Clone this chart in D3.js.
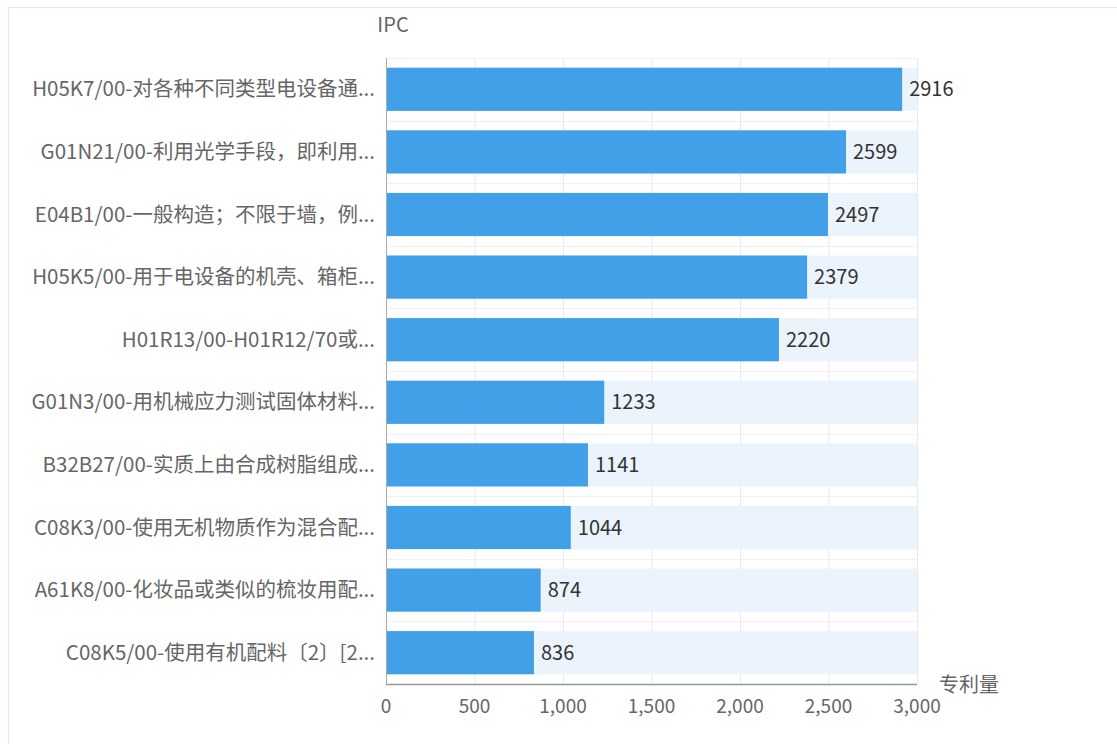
<!DOCTYPE html>
<html>
<head>
<meta charset="utf-8">
<script src="https://cdn.jsdelivr.net/npm/d3@7"></script>
<style>
  body { margin: 0; background: #fff; font-family: "Noto Sans CJK SC", "Noto Sans", sans-serif; }
  #chart { position: relative; }
</style>
</head>
<body>
<div id="chart"></div>
<script>
(function() {
'use strict';

const categories = [
  'H05K7/00-对各种不同类型电设备通...',
  'G01N21/00-利用光学手段，即利用...',
  'E04B1/00-一般构造；不限于墙，例...',
  'H05K5/00-用于电设备的机壳、箱柜...',
  'H01R13/00-H01R12/70或...',
  'G01N3/00-用机械应力测试固体材料...',
  'B32B27/00-实质上由合成树脂组成...',
  'C08K3/00-使用无机物质作为混合配...',
  'A61K8/00-化妆品或类似的梳妆用配...',
  'C08K5/00-使用有机配料〔2〕[2...'
];
const patentCounts = [2916, 2599, 2497, 2379, 2220, 1233, 1141, 1044, 874, 836];
const xTicks = [0, 500, 1000, 1500, 2000, 2500, 3000];

const width = 1117;
const height = 744;
const margin = {top: 58, right: 200, bottom: 60, left: 386};
const plotW = 917 - margin.left;
const plotH = 684 - margin.top;

const svg = d3.select('#chart')
  .append('svg')
  .attr('width', width)
  .attr('height', height);

// outer frame
svg.append('rect')
  .attr('x', 8.5).attr('y', 7.5)
  .attr('width', width).attr('height', height)
  .attr('fill', 'none')
  .attr('stroke', '#ebe6d8');

const g = svg.append('g')
  .attr('transform', 'translate(' + margin.left + ',' + margin.top + ')');

const x = d3.scaleLinear().domain([0, 3000]).range([0, plotW]);
const y = d3.scaleBand().domain(categories).range([0, plotH]).paddingInner(0.31).paddingOuter(0.155);

// vertical grid
g.selectAll('.grid')
  .data(xTicks.slice(1))
  .enter()
  .append('line')
  .attr('x1', d => x(d) + 0.5).attr('x2', d => x(d) + 0.5)
  .attr('y1', 0).attr('y2', plotH)
  .attr('stroke', '#e6e9ee');

// horizontal separators
g.selectAll('.hsep')
  .data(categories)
  .enter()
  .append('line')
  .attr('x1', 0).attr('x2', plotW)
  .attr('y1', d => Math.round(y(d) - y.step() * 0.155) + 0.5)
  .attr('y2', d => Math.round(y(d) - y.step() * 0.155) + 0.5)
  .attr('stroke', '#f1f1f1');

// background bars
g.selectAll('.bg')
  .data(categories)
  .enter()
  .append('rect')
  .attr('x', 0)
  .attr('y', d => y(d))
  .attr('width', plotW)
  .attr('height', y.bandwidth())
  .attr('fill', '#ebf4fd');

// bars
g.selectAll('.bar')
  .data(patentCounts)
  .enter()
  .append('rect')
  .attr('x', 0)
  .attr('y', (d, i) => y(categories[i]))
  .attr('width', d => x(d))
  .attr('height', y.bandwidth())
  .attr('fill', '#42a0e8');

// value labels
g.selectAll('.val')
  .data(patentCounts)
  .enter()
  .append('text')
  .attr('x', d => x(d) + 7)
  .attr('y', (d, i) => y(categories[i]) + y.bandwidth() / 2)
  .attr('dy', '0.35em')
  .attr('font-size', 20)
  .attr('fill', '#333')
  .text(d => d);

// category labels
g.selectAll('.cat')
  .data(categories)
  .enter()
  .append('text')
  .attr('x', -11)
  .attr('y', d => y(d) + y.bandwidth() / 2)
  .attr('dy', '0.35em')
  .attr('text-anchor', 'end')
  .attr('font-size', 20.5)
  .attr('fill', '#666')
  .text(d => d);

// axes lines
g.append('line')
  .attr('x1', 0.5).attr('x2', 0.5)
  .attr('y1', 0).attr('y2', plotH)
  .attr('stroke', '#aaa');
g.append('line')
  .attr('x1', 0).attr('x2', plotW)
  .attr('y1', plotH + 0.5).attr('y2', plotH + 0.5)
  .attr('stroke', '#999').attr('stroke-width', 1.5);

// x tick labels
const fmt = d3.format(',');
g.selectAll('.tick')
  .data(xTicks)
  .enter()
  .append('text')
  .attr('x', d => x(d))
  .attr('y', plotH + 22)
  .attr('dy', '0.35em')
  .attr('text-anchor', 'middle')
  .attr('font-size', 19)
  .attr('fill', '#666')
  .text(d => fmt(d));

// axis names
svg.append('text')
  .attr('x', 393).attr('y', 25)
  .attr('dy', '0.35em')
  .attr('text-anchor', 'middle')
  .attr('font-size', 20)
  .attr('fill', '#666')
  .text('IPC');

svg.append('text')
  .attr('x', 939).attr('y', 685)
  .attr('dy', '0.35em')
  .attr('font-size', 20)
  .attr('fill', '#666')
  .text('专利量');

})();
</script>
</body>
</html>
